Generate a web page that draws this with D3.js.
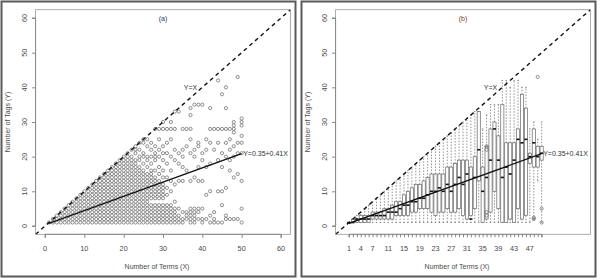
<!DOCTYPE html>
<html>
<head>
<meta charset="utf-8">
<script src="https://cdn.jsdelivr.net/npm/d3@7"></script>
<style>
  body{margin:0;background:#fff;}
  svg{display:block;font-family:"Liberation Sans",Arial,sans-serif;}
</style>
</head>
<body>
<svg id="chart" width="600" height="280"></svg>
<script>
// ---- data ----
const xTicks=[0,10,20,30,40,50,60];
const yTicks=[0,10,20,30,40,50,60];
const xCats=d3.range(1,51);
const xCatLabels=[1,4,7,11,15,19,23,27,31,35,39,43,47];

// panel (a): y values (runs) present in each column x = 1..50
const scatterRuns=[
  "1","1-2","1-3","1-4","1-5","1-6","1-7","1-8","1-9","1-10",
  "1-11","1-12","1-13","1-14","1-15","1-16","1-17","1-18","1-19","1-20",
  "1-21","1-20,22","1-19,21-23","1-17,19-20,22,24","1-16,18,20-21,24-25",
  "1-15,17,19-20,23,25","1-6,8-16,18,20,22,24","1-6,8-14,16,19-21,23,28",
  "1-6,8-13,15,17,20,22,25,28","1-6,8-12,14,16,19,21,23,28,30",
  "1-6,9,11,14,18,21,24,28","1-6,10,13,16,20,25,28,30","1-5,7,12,19,22,28,33",
  "1-3,5,13,18,21,33","1-2,4,13,17,20,22,28","2-4,16,23,28","1-5,13,21,25,28,32,34",
  "1-5,14,20,22,35","2,4-5,13,17,23-24,35","1-2,5,13,19,21,35","2,9,17,22,25",
  "1,3,10,18,24,28,34","1-2,4,22,28","1,10,19,24,28,42","1,6,10,17,21,28,38",
  "2-3,11,20,24,28,34,40","2,16,19,22,25,28","2,14,20,23,27-30","2,15,21,24,43",
  "1,5,13,21,24,26,29-31"
];

// panel (b): boxplot five-number summaries per x = 1..50
const bxLo =[1,1,1,1,1,1,1,1,1,1, 1,1,1,1,1,1,1,1,1,1, 1,1,1,1,1,1,1,1,1,1, 1,1,1,1,1,1,1,1,1,1, 1,1,1,1,1,1,1,2,13,1];
const bxQ1 =[1,1,1,1,1,1,2,2,2,2, 2,2,3,3,3,3,4,4,5,5, 5,4,3,4,4,5,4,4,5,3, 2,3,5,13,1,2,4,10,5,1, 1,2,1,5,2,3,18,17,17,19];
const bxMed=[1,1,2,2,2,2,3,3,3,3, 4,4,4,5,6,6,7,7,8,8, 9,10,10,11,10,12,10,12,14,12, 15,2,14,22,10,14,19,28,19,14, 17,15,19,25,24,25,20,24,20,21];
const bxQ3 =[1,2,2,3,3,3,4,4,4,5, 5,6,7,7,9,10,11,12,12,13, 14,15,15,15,15,17,17,18,19,19, 19,17,20,33,17,23,28,30,26,35, 24,24,24,28,38,34,21,28,23,23];
const bxHi =[1,2,3,4,5,6,7,8,9,10, 11,12,13,14,15,16,17,18,19,20, 21,22,23,24,25,26,27,28,29,30, 31,32,33,33,28,32,35,35,35,42, 42,40,42,42,40,40,28,30,25,30];
const bxOut=[[36,22],[36,23],[36,3],[36,4],[49,43],[48,2],[48,2.4],[50,5],[50,1]];

// ---- helpers ----
function expandRuns(s){
  const out=[];
  s.split(",").forEach(p=>{
    const [a,b]=p.split("-").map(Number);
    if(b===undefined) out.push(a); else d3.range(a,b+1).forEach(v=>out.push(v));
  });
  return out;
}
const scatterPts=[];
scatterRuns.forEach((s,i)=>expandRuns(s).forEach(y=>scatterPts.push({x:i+1,y})));
const boxes=xCats.map((c,i)=>({x:c,lo:bxLo[i],q1:bxQ1[i],med:bxMed[i],q3:bxQ3[i],hi:bxHi[i]}));

const svg=d3.select("#chart");
const ink="#4a4a4a", light="#888";

function panel(ox,tag,tagColor,drawMarks,categorical){
  const g=svg.append("g").attr("transform",`translate(${ox},0)`);
  g.append("rect").attr("x",1.5).attr("y",1.5).attr("width",294).attr("height",275)
    .attr("fill","none").attr("stroke","#5a5a5a").attr("stroke-width",2);

  const x=d3.scaleLinear().domain([-2.4,62.4]).range([35.6,290.4]);
  const y=d3.scaleLinear().domain([-2.4,62.4]).range([234.3,9.7]);

  drawMarks(g,x,y);

  // y = x reference line
  g.append("line").attr("x1",x(-2.4)).attr("y1",y(-2.4)).attr("x2",x(62.4)).attr("y2",y(62.4))
    .attr("stroke","#111").attr("stroke-width",1.4).attr("stroke-dasharray","4,3.5");
  // regression line Y=0.35+0.41X
  g.append("line").attr("x1",x(1)).attr("y1",y(0.35+0.41*1)).attr("x2",x(50)).attr("y2",y(0.35+0.41*50))
    .attr("stroke","#111").attr("stroke-width",1.4);

  g.append("rect").attr("x",35.6).attr("y",9.7).attr("width",254.8).attr("height",224.6)
    .attr("fill","none").attr("stroke","#999").attr("stroke-width",0.8);

  // axes
  const ay=g.append("g").attr("transform","translate(35.6,0)")
    .call(d3.axisLeft(y).tickValues(yTicks).tickSize(3.5).tickFormat(""));
  ay.select(".domain").attr("d",`M-3.5,${y(0)}H0V${y(60)}H-3.5`).attr("stroke",light);
  ay.selectAll(".tick line").attr("stroke",light);
  g.selectAll(".ylab").data(yTicks).enter().append("text")
    .attr("transform",d=>`translate(26.5,${y(d)}) rotate(-90)`)
    .attr("text-anchor","middle").attr("font-size",7.3).attr("fill",ink).text(d=>d);

  const ax=g.append("g").attr("transform","translate(0,234.3)");
  if(categorical){
    ax.call(d3.axisBottom(x).tickValues(xCats).tickSize(3).tickFormat(""));
    ax.select(".domain").attr("d",`M${x(1)},3H${x(1)}V0H${x(50)}V3`).attr("stroke",light);
    g.selectAll(".xlab").data(xCatLabels).enter().append("text")
      .attr("x",d=>x(d)).attr("y",250.5).attr("text-anchor","middle")
      .attr("font-size",7.3).attr("fill",ink).text(d=>d);
  }else{
    ax.call(d3.axisBottom(x).tickValues(xTicks).tickSize(3.5).tickFormat(""));
    ax.select(".domain").attr("d",`M${x(0)},3.5V0H${x(60)}V3.5`).attr("stroke",light);
    g.selectAll(".xlab").data(xTicks).enter().append("text")
      .attr("x",d=>x(d)).attr("y",250.5).attr("text-anchor","middle")
      .attr("font-size",7.3).attr("fill",ink).text(d=>d);
  }
  ax.selectAll(".tick line").attr("stroke",light);

  g.append("text").attr("x",157).attr("y",269).attr("text-anchor","middle")
    .attr("font-size",7).attr("fill",ink).text("Number of Terms (X)");
  g.append("text").attr("transform","translate(10,122) rotate(-90)").attr("text-anchor","middle")
    .attr("font-size",7).attr("fill",ink).text("Number of Tags (Y)");

  g.append("text").attr("x",x(30)).attr("y",y(60)+2.5).attr("text-anchor","middle")
    .attr("font-size",7).attr("fill",tagColor).text(tag);
  g.append("text").attr("x",x(37)).attr("y",y(40)+2.5).attr("text-anchor","middle")
    .attr("font-size",7).attr("fill","#333").text("Y=X");
  g.append("text").attr("x",x(50)+1.5).attr("y",y(20.85)+2.5)
    .attr("font-size",7).attr("fill","#333").text("Y=0.35+0.41X");
}

panel(0,"(a)","#1f2f6a",(g,x,y)=>{
  g.append("g").selectAll("circle").data(scatterPts).enter().append("circle")
    .attr("cx",d=>x(d.x)).attr("cy",d=>y(d.y)).attr("r",1.6)
    .attr("fill","none").attr("stroke","#6a6a6a").attr("stroke-width",0.75);
},false);

panel(300,"(b)","#7a3b1c",(g,x,y)=>{
  const bw=0.8, half=(x(bw)-x(0))/2, cap=half/2;
  const bg=g.append("g");
  const b=bg.selectAll("g").data(boxes).enter().append("g");
  b.append("line").attr("x1",d=>x(d.x)).attr("x2",d=>x(d.x))
    .attr("y1",d=>y(d.q3)).attr("y2",d=>y(d.hi))
    .attr("stroke","#666").attr("stroke-width",0.7).attr("stroke-dasharray","1.5,1.5");
  b.append("line").attr("x1",d=>x(d.x)).attr("x2",d=>x(d.x))
    .attr("y1",d=>y(d.q1)).attr("y2",d=>y(d.lo))
    .attr("stroke","#666").attr("stroke-width",0.7).attr("stroke-dasharray","1.5,1.5");
  b.append("line").attr("x1",d=>x(d.x)-cap).attr("x2",d=>x(d.x)+cap)
    .attr("y1",d=>y(d.hi)).attr("y2",d=>y(d.hi)).attr("stroke","#666").attr("stroke-width",0.7);
  b.append("line").attr("x1",d=>x(d.x)-cap).attr("x2",d=>x(d.x)+cap)
    .attr("y1",d=>y(d.lo)).attr("y2",d=>y(d.lo)).attr("stroke","#666").attr("stroke-width",0.7);
  b.append("rect").attr("x",d=>x(d.x)-half).attr("width",half*2)
    .attr("y",d=>y(d.q3)).attr("height",d=>Math.max(0.5,y(d.q1)-y(d.q3)))
    .attr("fill","#fff").attr("stroke","#666").attr("stroke-width",0.7);
  b.append("line").attr("x1",d=>x(d.x)-half).attr("x2",d=>x(d.x)+half)
    .attr("y1",d=>y(d.med)).attr("y2",d=>y(d.med)).attr("stroke","#111").attr("stroke-width",1.6);
  bg.selectAll("circle").data(bxOut).enter().append("circle")
    .attr("cx",d=>x(d[0])).attr("cy",d=>y(d[1])).attr("r",1.6)
    .attr("fill","none").attr("stroke","#666").attr("stroke-width",0.7);
},true);
</script>
</body>
</html>
